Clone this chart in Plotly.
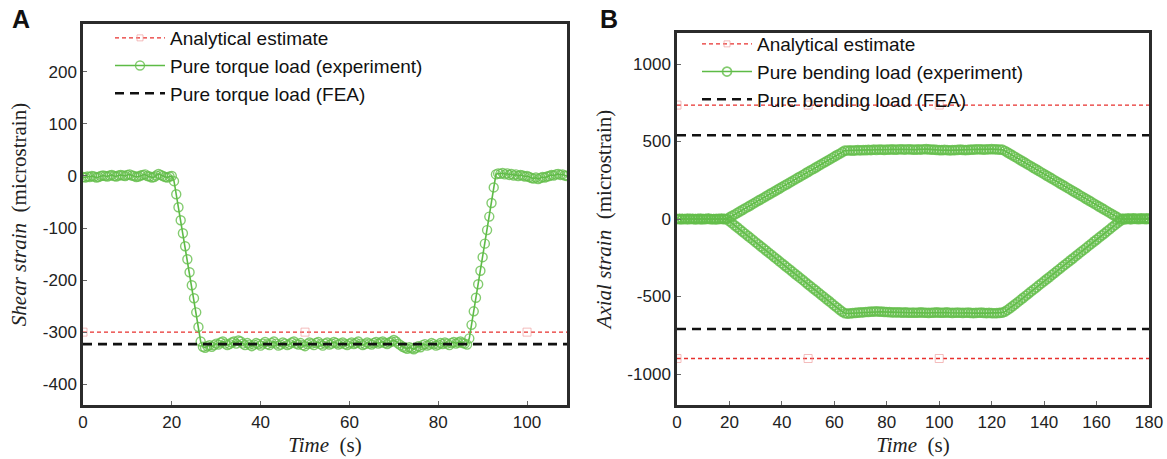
import numpy as np
import plotly.graph_objects as go

# ---------------- Panel A data (shear strain, pure torque) ----------------
time_a = np.arange(0, 109.01, 0.5)
shear_strain = [
    -2, -3, -1, -2, 0, -1, -3, -2, 0, 1,
    0, -1, 1, 2, 0, -1, 1, 2, 1, 0,
    2, 3, 1, 0, -2, -1, 1, 2, 3, 0,
    -1, -3, -2, 1, 4, 2, 0, -2, -3, -1,
    0, -10, -35, -60, -85, -110, -135, -160, -185, -210,
    -235, -262, -290, -318, -328, -330, -327, -325, -328, -325,
    -322, -324, -320, -318, -322, -325, -323, -320, -318, -322,
    -316, -318, -322, -325, -321, -324, -327, -324, -321, -323,
    -326, -322, -319, -323, -325, -321, -318, -322, -326, -324,
    -320, -322, -325, -323, -320, -318, -322, -324, -321, -325,
    -327, -323, -320, -322, -325, -321, -319, -323, -326, -322,
    -320, -324, -322, -319, -321, -324, -322, -320, -323, -325,
    -322, -320, -323, -321, -318, -322, -325, -323, -320, -322,
    -324, -321, -319, -322, -320, -318, -321, -323, -320, -318,
    -315, -318, -322, -325, -328, -330, -332, -329, -331, -333,
    -330, -327, -329, -325, -323, -326, -324, -321, -323, -326,
    -324, -321, -323, -320, -322, -325, -321, -319, -322, -320,
    -318, -321, -322, -324, -312, -286, -260, -234, -208, -182,
    -156, -130, -104, -78, -52, -22, 3, 5, 4, 6,
    3, 5, 2, 4, 1, 3, 0, 2, 1, -1,
    0, -2, -4, -5, -3, -6, -4, -2, -3, -1,
    0, 2, 1, 3, 4, 2, 3, 1, 0,
]
analytical_a = -300
fea_a = -323
analytical_marker_t_a = [0, 50, 100, 109]
yticks_a = [-400, -300, -200, -100, 0, 100, 200]
xticks_a = [0, 20, 40, 60, 80, 100]

# ---------------- Panel B data (axial strain, pure bending) ----------------
time_b = np.arange(0, 180.01, 1.0)
axial_upper = [
    0, 1, -1, 0, 2, 1, 0, -1, 1, 2,
    0, 1, 2, 0, -1, 1, 0, 2, 1, 0,
    10, 20, 29, 39, 49, 59, 69, 78, 88, 98,
    108, 118, 127, 137, 147, 157, 167, 176, 186, 196,
    206, 216, 225, 235, 245, 255, 265, 274, 284, 294,
    304, 314, 323, 333, 343, 353, 363, 372, 382, 392,
    402, 412, 421, 431, 441, 442, 443, 441, 443, 444,
    443, 445, 444, 446, 445, 447, 446, 448, 447, 446,
    447, 448, 449, 447, 448, 450, 449, 448, 450, 449,
    448, 447, 449, 448, 450, 451, 449, 448, 447, 446,
    445, 444, 446, 445, 443, 444, 445, 446, 447, 446,
    445, 446, 447, 448, 449, 450, 449, 448, 449, 450,
    451, 450, 449, 448, 447, 440, 430, 420, 410, 400,
    390, 380, 370, 360, 350, 340, 330, 320, 310, 300,
    290, 280, 270, 260, 250, 240, 230, 220, 210, 200,
    190, 180, 170, 160, 150, 140, 130, 120, 110, 100,
    90, 80, 70, 60, 50, 40, 30, 20, 10, 0,
    3, 1, 5, 2, 4, 3, 2, 5, 3, 4, 3,
]
axial_lower = [
    0, -1, 1, 0, -2, 0, 1, -1, 0, -2,
    -1, 0, 1, -1, 0, -2, 1, 0, -1, 0,
    -14, -27, -41, -54, -68, -82, -95, -109, -122, -136,
    -150, -163, -177, -190, -204, -218, -231, -245, -258, -272,
    -286, -299, -313, -326, -340, -354, -367, -381, -394, -408,
    -422, -435, -449, -462, -476, -490, -503, -517, -530, -544,
    -558, -571, -585, -598, -608, -610, -609, -607, -606, -604,
    -603, -602, -600, -599, -598, -597, -596, -597, -598, -599,
    -600, -601, -602, -603, -602, -603, -604, -603, -604, -605,
    -604, -605, -604, -603, -604, -605, -606, -605, -604, -603,
    -604, -605, -604, -603, -605, -606, -605, -604, -605, -606,
    -605, -604, -606, -607, -606, -605, -604, -606, -607, -606,
    -607, -608, -607, -606, -604, -598, -587, -575, -562, -549,
    -536, -522, -509, -495, -482, -468, -455, -442, -428, -415,
    -401, -388, -375, -361, -348, -334, -321, -307, -294, -281,
    -267, -254, -240, -227, -213, -200, -187, -173, -160, -146,
    -133, -119, -106, -93, -79, -66, -52, -39, -25, -12,
    -3, -1, 0, -2, 1, 0, -1, 1, 0, -1, 0,
]
analytical_b = [735, -900]
fea_b = [540, -710]
analytical_marker_t_b = [0, 50, 100, 180]
yticks_b = [-1000, -500, 0, 500, 1000]
xticks_b = [0, 20, 40, 60, 80, 100, 120, 140, 160, 180]

# ---------------- styles ----------------
RED = "#E8302E"
RED_MK = "#F0A0A0"
GREEN = "#5DBB46"
GREEN_MK = "rgba(100,190,75,0.8)"
BLACK = "#111111"
W, H = 1167, 459

fig = go.Figure()

def add_analytical(x, y, xa, ya, legend, show):
    fig.add_trace(go.Scatter(
        x=x, y=[y] * len(x), mode="lines+markers", xaxis=xa, yaxis=ya,
        name="Analytical estimate", legend=legend, showlegend=show,
        line=dict(color=RED, width=1.3, dash="4px,3px"),
        marker=dict(symbol="square-open", size=[8, 8, 8, 0], color=RED_MK, line=dict(width=1)),
    ))

def add_fea(xr, y, name, xa, ya, legend, show):
    fig.add_trace(go.Scatter(
        x=xr, y=[y, y], mode="lines", xaxis=xa, yaxis=ya, name=name,
        legend=legend, showlegend=show,
        line=dict(color=BLACK, width=2.6, dash="9px,6px"),
    ))

def add_exp(t, y, name, xa, ya, legend, show, msize=7, mwidth=1.2):
    fig.add_trace(go.Scatter(
        x=t, y=y, mode="lines+markers", xaxis=xa, yaxis=ya, name=name,
        legend=legend, showlegend=show,
        line=dict(color=GREEN, width=1.6),
        marker=dict(symbol="circle-open", size=msize, color=GREEN_MK, line=dict(width=mwidth)),
    ))

# Panel A
add_analytical(analytical_marker_t_a, analytical_a, "x", "y", "legend", True)
add_exp(time_a, shear_strain, "Pure torque load (experiment)", "x", "y", "legend", True, 9, 1.4)
add_fea([0, 109], fea_a, "Pure torque load (FEA)", "x", "y", "legend", True)

# Panel B
add_analytical(analytical_marker_t_b, analytical_b[0], "x2", "y2", "legend2", True)
add_exp(time_b, axial_upper, "Pure bending load (experiment)", "x2", "y2", "legend2", True, 9, 1.7)
add_fea([0, 180], fea_b[0], "Pure bending load (FEA)", "x2", "y2", "legend2", True)
add_analytical(analytical_marker_t_b, analytical_b[1], "x2", "y2", "legend2", False)
add_exp(time_b, axial_lower, "Pure bending load (experiment)", "x2", "y2", "legend2", False, 9, 1.7)
add_fea([0, 180], fea_b[1], "Pure bending load (FEA)", "x2", "y2", "legend2", False)

def px(v):
    return v / W

def py(v):
    return 1 - v / H

def labels(vals):
    return [str(v) for v in vals]  # plain hyphen-minus like the reference

axis_common = dict(
    showline=True, mirror=True, linecolor="#2b2b2b", linewidth=2.5,
    ticks="inside", ticklen=4, tickcolor="#666", tickwidth=1,
    showgrid=False, zeroline=False, automargin=False,
    tickfont=dict(family="Liberation Sans, Arial", size=17, color="#222"),
)
title_font = dict(family="Liberation Serif, DejaVu Serif", size=21, color="#222")
legend_font = dict(family="Liberation Sans, Arial", size=19, color="#111")

fig.update_layout(
    width=W, height=H,
    margin=dict(l=0, r=0, t=0, b=0, autoexpand=False),
    paper_bgcolor="white", plot_bgcolor="white",
    xaxis=dict(domain=[px(83), px(567)], range=[0, 109], tickvals=xticks_a, ticktext=labels(xticks_a),
               title=dict(text="<i>Time</i>  (s)", font=title_font, standoff=7), anchor="y", **axis_common),
    yaxis=dict(domain=[py(405), py(24)], range=[-440, 292], tickvals=yticks_a, ticktext=labels(yticks_a),
               title=dict(text="<i>Shear strain</i>  (microstrain)", font=title_font, standoff=11), anchor="x", **axis_common),
    xaxis2=dict(domain=[px(677), px(1149)], range=[0, 180], tickvals=xticks_b, ticktext=labels(xticks_b),
                title=dict(text="<i>Time</i>  (s)", font=title_font, standoff=7), anchor="y2", **axis_common),
    yaxis2=dict(domain=[py(405), py(33)], range=[-1200, 1200], tickvals=yticks_b, ticktext=labels(yticks_b),
                title=dict(text="<i>Axial strain</i>  (microstrain)", font=title_font, standoff=11), anchor="x2", **axis_common),
    legend=dict(x=px(110), y=py(19), xanchor="left", yanchor="top", bgcolor="rgba(0,0,0,0)",
                font=legend_font, itemwidth=50),
    legend2=dict(x=px(697), y=py(25), xanchor="left", yanchor="top", bgcolor="rgba(0,0,0,0)",
                 font=legend_font, itemwidth=50),
    annotations=[
        dict(text="<b>A</b>", x=px(10), y=py(19), xref="paper", yref="paper", showarrow=False,
             xanchor="left", yanchor="middle", font=dict(family="Liberation Sans, Arial", size=25, color="#111")),
        dict(text="<b>B</b>", x=px(598), y=py(19), xref="paper", yref="paper", showarrow=False,
             xanchor="left", yanchor="middle", font=dict(family="Liberation Sans, Arial", size=25, color="#111")),
    ],
)

fig.write_html("out.html", config={"displayModeBar": False},
               post_script="document.body.style.margin='0';")
